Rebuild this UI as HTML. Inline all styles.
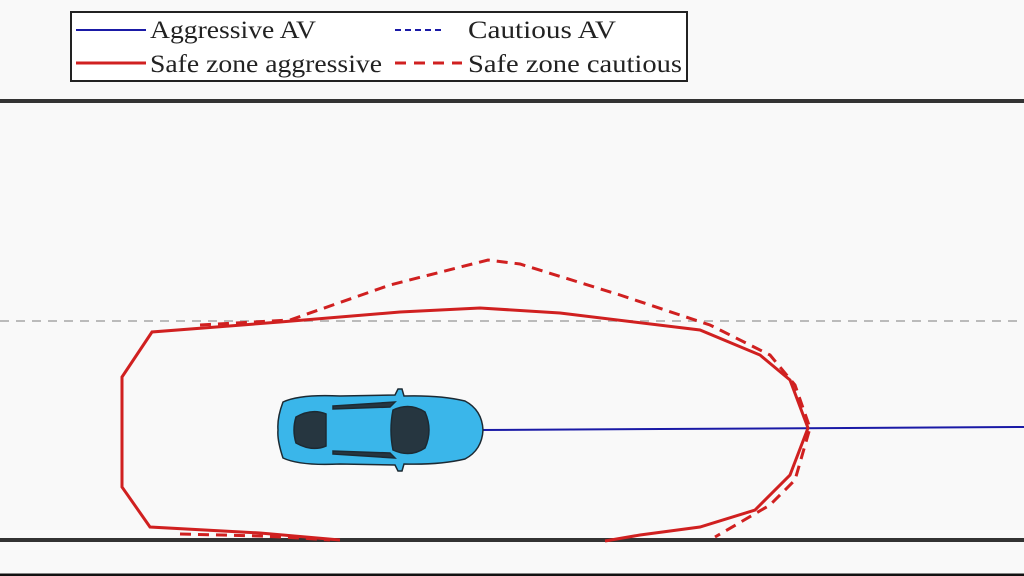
<!DOCTYPE html>
<html><head><style>
html,body{margin:0;padding:0;background:#f9f9f9;}
svg{display:block}
</style></head><body>
<svg width="1024" height="576" viewBox="0 0 1024 576" xmlns="http://www.w3.org/2000/svg">
<rect width="1024" height="576" fill="#f9f9f9"/>
<!-- legend -->
<rect x="71" y="12" width="616" height="69" fill="#fff" stroke="#222" stroke-width="2"/>
<line x1="76" y1="30" x2="146" y2="30" stroke="#1a1aa6" stroke-width="2"/>
<line x1="335" y1="30" x2="385" y2="30" stroke="#1a1aa6" stroke-width="2" stroke-dasharray="6,4" transform="translate(60,0)"/>
<line x1="76" y1="63" x2="146" y2="63" stroke="#d02020" stroke-width="3"/>
<line x1="395" y1="63" x2="462" y2="63" stroke="#d02020" stroke-width="3" stroke-dasharray="11,8"/>
<g font-family="Liberation Serif, serif" font-size="25" fill="#222">
<text x="150" y="38" textLength="166" lengthAdjust="spacingAndGlyphs">Aggressive AV</text>
<text x="468" y="38" textLength="148" lengthAdjust="spacingAndGlyphs">Cautious AV</text>
<text x="150" y="72" textLength="232" lengthAdjust="spacingAndGlyphs">Safe zone aggressive</text>
<text x="468" y="72" textLength="214" lengthAdjust="spacingAndGlyphs">Safe zone cautious</text>
</g>
<!-- road -->
<line x1="0" y1="101" x2="1024" y2="101" stroke="#333" stroke-width="4"/>
<line x1="0" y1="540" x2="1024" y2="540" stroke="#333" stroke-width="4"/>
<line x1="0" y1="575" x2="1024" y2="575" stroke="#111" stroke-width="3"/>
<line x1="0" y1="321" x2="1024" y2="321" stroke="#bbb" stroke-width="2" stroke-dasharray="9,7"/>
<!-- trajectory -->
<line x1="480" y1="430" x2="1024" y2="427" stroke="#1a1aa6" stroke-width="2"/>
<!-- safe zones -->
<polyline fill="none" stroke="#d02020" stroke-width="3" stroke-dasharray="11,7"
 points="180,534 260,536 300,538 330,540"/>
<polyline fill="none" stroke="#d02020" stroke-width="3" stroke-dasharray="11,7"
 points="200,325 290,320 390,285 488,260 520,264 620,295 710,325 770,355 795,385 810,428 795,480 770,505 715,537"/>
<polyline fill="none" stroke="#d02020" stroke-width="3"
 points="340,540 260,533 150,527 122,487 122,377 152,332 280,322 400,312 480,308 560,313 700,330 760,355 790,380 808,428 790,475 755,510 700,527 640,535 605,541"/>
<!-- car -->
<g stroke="#1c2a33" stroke-width="1.5">
<path d="M283,402 Q300,394 340,396 L395,395 L398,389 L402,389 L404,396 Q440,395 465,401 Q482,410 483,430 Q482,450 465,459 Q440,465 404,464 L402,471 L398,471 L395,465 L340,464 Q300,466 283,458 Q277,440 278,430 Q277,418 283,402 Z" fill="#3ab6ea"/>
<path d="M296,417 Q312,408 326,414 L326,446 Q312,452 296,443 Q292,430 296,417 Z" fill="#263640"/>
<path d="M393,410 Q410,402 425,412 Q433,430 425,448 Q410,458 393,450 Q389,430 393,410 Z" fill="#263640"/>
<path d="M333,406 L395,402 L390,407 L333,409 Z" fill="#263640"/>
<path d="M333,454 L395,458 L390,453 L333,451 Z" fill="#263640"/>
</g>
</svg>
</body></html>
